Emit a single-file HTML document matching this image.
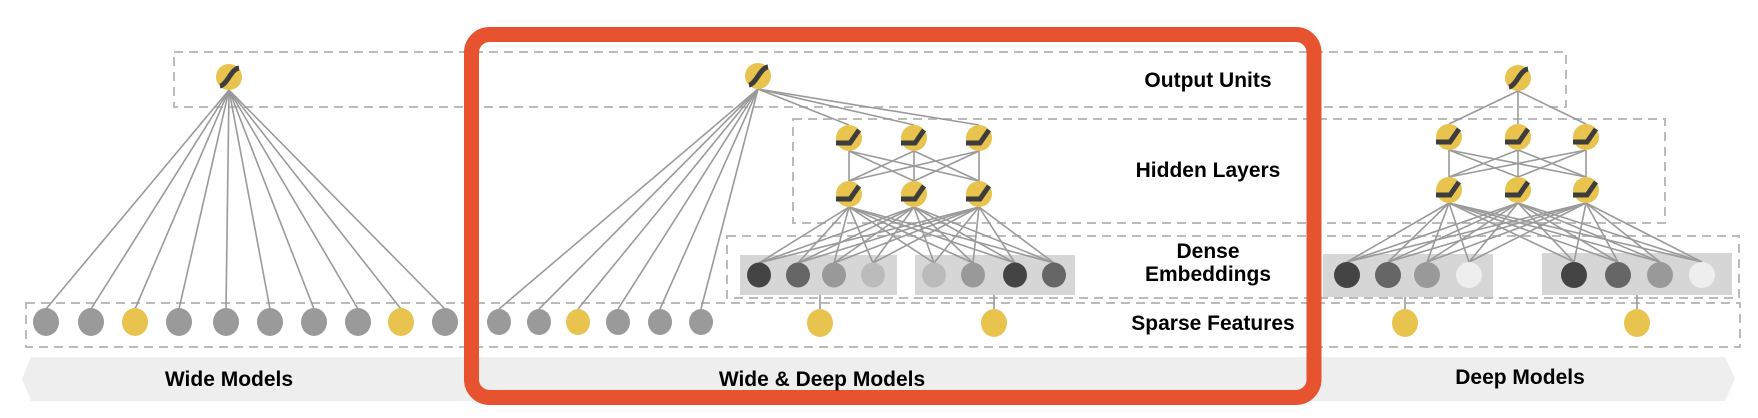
<!DOCTYPE html>
<html><head><meta charset="utf-8"><style>
html,body{margin:0;padding:0;background:#fff;}
svg{display:block;}
text{font-family:"Liberation Sans",Arial,sans-serif;font-weight:bold;fill:#000;}
</style></head><body>
<svg id="s" width="1758" height="418" viewBox="0 0 1758 418" xmlns="http://www.w3.org/2000/svg">
<polygon points="31,357 1725,357 1735,379 1725,401 31,401 22,379" fill="#eeeeee"/>
<g fill="none" stroke="#bbbbbb" stroke-width="2" stroke-dasharray="9,6">
<rect x="174" y="52" width="1392" height="55"/>
<rect x="793" y="119" width="872" height="104"/>
<rect x="727" y="236" width="1012" height="62"/>
<rect x="26" y="303" width="1714" height="44"/>
</g>
<g fill="#d6d6d6">
<rect x="740" y="255" width="157" height="40"/>
<rect x="915" y="255" width="160" height="40"/>
<rect x="1323" y="254" width="170" height="43"/>
<rect x="1542" y="253" width="190" height="42"/>
</g>
<g id="lines" stroke="#9a9a9a" stroke-width="1.6" fill="none"></g>
<g id="nodes"></g>
<rect x="471.5" y="34.5" width="842.5" height="363" rx="18" fill="none" stroke="#E8532F" stroke-width="15"/>
<g font-size="21" text-anchor="middle">
<text x="1208" y="87">Output Units</text>
<text x="1208" y="177">Hidden Layers</text>
<text x="1208" y="258">Dense</text>
<text x="1208" y="281">Embeddings</text>
<text x="1213" y="330">Sparse Features</text>
</g>
<g font-size="21" text-anchor="middle">
<text x="229" y="386">Wide Models</text>
<text x="822" y="386">Wide &amp; Deep Models</text>
<text x="1520" y="384">Deep Models</text>
</g>
</svg>
<script>
var NS="http://www.w3.org/2000/svg";
var L=document.getElementById("lines"),N=document.getElementById("nodes");
function line(a,b,c,d){var e=document.createElementNS(NS,"line");e.setAttribute("x1",a);e.setAttribute("y1",b);e.setAttribute("x2",c);e.setAttribute("y2",d);L.appendChild(e);}
function circ(x,y,r,f,ry){var e=document.createElementNS(NS,"ellipse");e.setAttribute("cx",x);e.setAttribute("cy",y);e.setAttribute("rx",r);e.setAttribute("ry",ry||r);e.setAttribute("fill",f);N.appendChild(e);}
function path(d){var e=document.createElementNS(NS,"path");e.setAttribute("d",d);e.setAttribute("stroke","#3d3d3d");e.setAttribute("stroke-width","5");e.setAttribute("fill","none");N.appendChild(e);}
var Y="#E8C34E",G="#9a9a9a";
function sig(x,y){circ(x,y,13,Y);path("M"+(x-9)+","+(y+9)+" C"+(x-2)+","+(y+8)+" "+(x+2)+","+(y-8)+" "+(x+10)+","+(y-9));}
function relu(x,y){circ(x,y,13,Y);path("M"+(x-13)+","+(y+5)+" L"+(x+1)+","+(y+5)+" L"+(x+10)+","+(y-8));}
var ws=[46,91,135,179,226,270,314,358,401,445];
ws.forEach(function(x){line(229,90,x,309);});
var wd=[499,539,578,618,660,701];
wd.forEach(function(x){line(758,89,x,309);});
var hx=[849,914,979];
hx.forEach(function(x){line(758,89,x,125);});
hx.forEach(function(a){hx.forEach(function(b){line(a,151,b,181);});});
var e1=[759,798,834,873,934,973,1015,1054];
hx.forEach(function(a){e1.forEach(function(b){line(a,207,b,263);});});
line(820,295,820,309);line(994,295,994,309);
var dx=[1449,1518,1586];
dx.forEach(function(x){line(1518,91,x,124);});
dx.forEach(function(a){dx.forEach(function(b){line(a,150,b,177);});});
var e2=[1347,1388,1427,1469,1574,1618,1660,1702];
dx.forEach(function(a){e2.forEach(function(b){line(a,203,b,262);});});
line(1405,297,1405,309);line(1637,295,1637,309);
ws.forEach(function(x,i){circ(x,322,13,(i==2||i==8)?Y:G,14);});
wd.forEach(function(x,i){circ(x,322,12,i==2?Y:G,13);});
[820,994,1405,1637].forEach(function(x){circ(x,323,13,Y,14);});
var c1=["#444","#666","#999","#bbb","#bbb","#999","#444","#666"];
e1.forEach(function(x,i){circ(x,275,12,c1[i],12.5);});
var c2=["#444","#666","#999","#eee","#444","#666","#999","#eee"];
e2.forEach(function(x,i){circ(x,275,13,c2[i]);});
sig(229,77);sig(758,76);sig(1518,78);
hx.forEach(function(x){relu(x,138);relu(x,194);});
dx.forEach(function(x){relu(x,137);relu(x,190);});
</script>
</body></html>
